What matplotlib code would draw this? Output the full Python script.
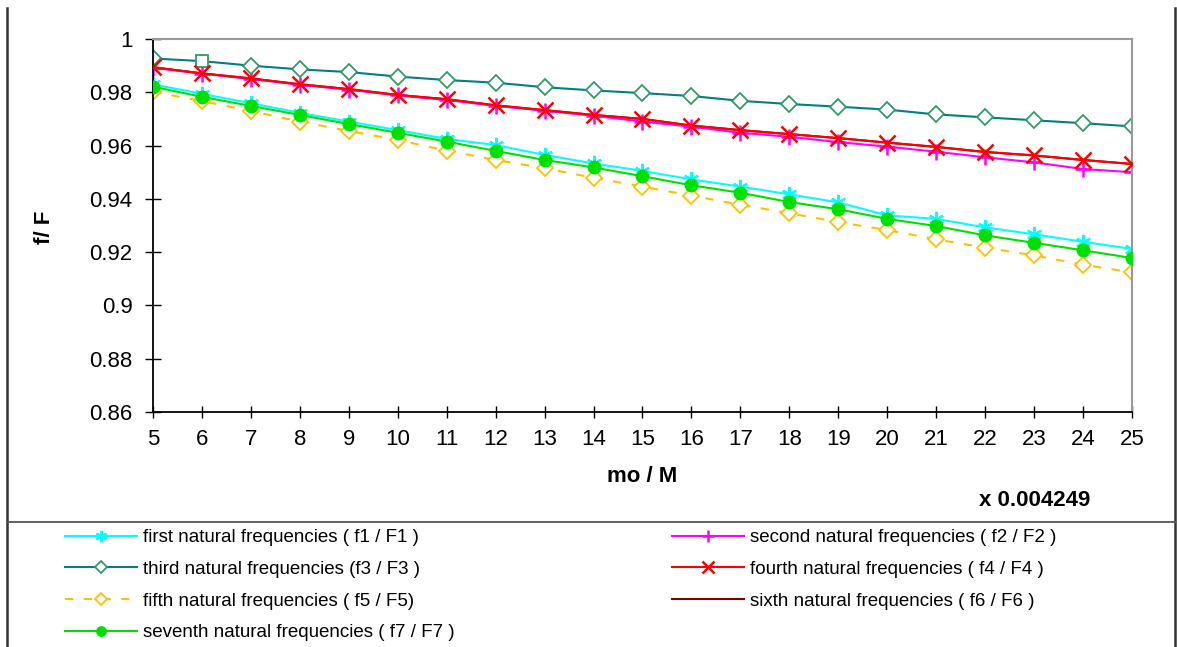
import matplotlib.pyplot as plt
from matplotlib.lines import Line2D

plt.rcParams['font.family'] = ['Liberation Sans', 'DejaVu Sans']

mass_ratio = list(range(5, 26))

first = [0.9830, 0.9794, 0.9759, 0.9723, 0.9690, 0.9658, 0.9625, 0.9602,
         0.9565, 0.9533, 0.9505, 0.9473, 0.9446, 0.9417, 0.9387, 0.9338,
         0.9325, 0.9293, 0.9267, 0.9239, 0.9212]
second = [0.9892, 0.9870, 0.9850, 0.9828, 0.9810, 0.9788, 0.9771, 0.9749,
          0.9731, 0.9712, 0.9690, 0.9671, 0.9648, 0.9633, 0.9613, 0.9596,
          0.9577, 0.9556, 0.9537, 0.9512, 0.9500]
third = [0.9927, 0.9917, 0.9900, 0.9886, 0.9876, 0.9859, 0.9846, 0.9836,
         0.9819, 0.9807, 0.9797, 0.9786, 0.9768, 0.9756, 0.9746, 0.9735,
         0.9717, 0.9706, 0.9695, 0.9684, 0.9672]
fourth = [0.9894, 0.9871, 0.9852, 0.9830, 0.9812, 0.9790, 0.9774, 0.9751,
          0.9733, 0.9715, 0.9700, 0.9675, 0.9658, 0.9643, 0.9628, 0.9611,
          0.9595, 0.9576, 0.9563, 0.9546, 0.9531]
fifth = [0.9802, 0.9767, 0.9730, 0.9690, 0.9655, 0.9621, 0.9581, 0.9546,
         0.9515, 0.9479, 0.9446, 0.9412, 0.9378, 0.9346, 0.9313, 0.9283,
         0.9248, 0.9217, 0.9188, 0.9153, 0.9124]
sixth = [0.9894, 0.9871, 0.9852, 0.9830, 0.9812, 0.9790, 0.9774, 0.9751,
         0.9733, 0.9715, 0.9700, 0.9675, 0.9658, 0.9643, 0.9628, 0.9611,
         0.9595, 0.9576, 0.9563, 0.9546, 0.9531]
seventh = [0.9821, 0.9783, 0.9749, 0.9715, 0.9681, 0.9648, 0.9615, 0.9580,
           0.9546, 0.9518, 0.9485, 0.9451, 0.9423, 0.9388, 0.9361, 0.9325,
           0.9298, 0.9263, 0.9235, 0.9207, 0.9178]

labels = [
    'first natural frequencies ( f1 / F1 )',
    'second natural frequencies ( f2 / F2 )',
    'third natural frequencies (f3 / F3 )',
    'fourth natural frequencies ( f4 / F4 )',
    'fifth natural frequencies ( f5 / F5)',
    'sixth natural frequencies ( f6 / F6 )',
    'seventh natural frequencies ( f7 / F7 )',
]

fig = plt.figure(figsize=(11.77, 6.47), dpi=100)
ax = fig.add_axes([0.13, 0.3632, 0.8317, 0.5765])

h6, = ax.plot(mass_ratio, sixth, color='#800000', lw=1.5, label=labels[5], zorder=1)
h1, = ax.plot(mass_ratio, first, color='#00FFFF', lw=1.5, marker=(6, 2, 0),
              ms=11, mew=1.5, label=labels[0], zorder=2)
h2, = ax.plot(mass_ratio, second, color='#FF00FF', lw=1.5, marker='+',
              ms=12, mew=1.8, label=labels[1], zorder=2)
h3, = ax.plot(mass_ratio, third, color='#008080', lw=1.5, marker='D', ms=8,
              mfc='white', mec='#339966', mew=1.3, label=labels[2], zorder=2,
              markevery=[i for i in range(len(third)) if i != 1])
ax.plot(mass_ratio[1], third[1], marker='s', ms=8, mfc='white',
        mec='#339966', mew=1.3, zorder=3)
h4, = ax.plot(mass_ratio, fourth, color='#FF0000', lw=1.5, marker='x',
              ms=11, mew=1.8, label=labels[3], zorder=3)
h5, = ax.plot(mass_ratio, fifth, color='#FFC000', lw=1.5, ls=(0, (4, 5)),
              marker='D', ms=8, mfc='white', mec='#FFC000', mew=1.3,
              label=labels[4], zorder=2)
h7, = ax.plot(mass_ratio, seventh, color='#00E000', lw=1.5, marker='o',
              ms=9, mec='#00E000', label=labels[6], zorder=3)

ax.set_xlim(5, 25)
ax.set_ylim(0.86, 1.0)
ax.set_xticks(mass_ratio)
ax.set_yticks([0.86, 0.88, 0.9, 0.92, 0.94, 0.96, 0.98, 1.0])
ax.set_yticklabels(['0.86', '0.88', '0.9', '0.92', '0.94', '0.96', '0.98', '1'])
ax.tick_params(axis='y', direction='inout', length=11.5, width=1, pad=9,
               labelsize=16)
ax.tick_params(axis='x', direction='inout', length=8.6, width=1, pad=8,
               labelsize=16)
for side in ['left', 'bottom']:
    ax.spines[side].set_color('black')
    ax.spines[side].set_linewidth(1.3)
for side in ['top', 'right']:
    ax.spines[side].set_color('#999999')
    ax.spines[side].set_linewidth(1.5)

fig.text(642 / 1177, 1 - 477 / 647, 'mo / M', ha='center', va='center',
         fontsize=16, fontweight='bold')
fig.text(44 / 1177, 1 - 227 / 647, 'f/ F', ha='center', va='center',
         rotation=90, fontsize=16, fontweight='bold')
fig.text(1035 / 1177, 1 - 500 / 647, 'x 0.004249', ha='center', va='center',
         fontsize=16, fontweight='bold')

# outer chart frame and legend separator
fig.add_artist(Line2D([7 / 1177, 7 / 1177], [0, 1 - 8 / 647],
                      transform=fig.transFigure, color='#333333', lw=1.8))
fig.add_artist(Line2D([1175 / 1177, 1175 / 1177], [0, 1 - 8 / 647],
                      transform=fig.transFigure, color='#333333', lw=1.8))
fig.add_artist(Line2D([7 / 1177, 1175 / 1177], [1 - 522 / 647, 1 - 522 / 647],
                      transform=fig.transFigure, color='#555555', lw=1.3))

leg_kw = dict(loc='upper left', frameon=False, fontsize=13.5, borderpad=0,
              borderaxespad=0, handlelength=3.84, handletextpad=0.32,
              labelspacing=0.78, numpoints=1, markerscale=0.75)
fig.legend(handles=[h1, h3, h5, h7], bbox_to_anchor=(65 / 1177, 1 - 529 / 647),
           **leg_kw)
fig.legend(handles=[h2, h4, h6], bbox_to_anchor=(672 / 1177, 1 - 529 / 647),
           **leg_kw)

fig.savefig('out.png', dpi=100)
